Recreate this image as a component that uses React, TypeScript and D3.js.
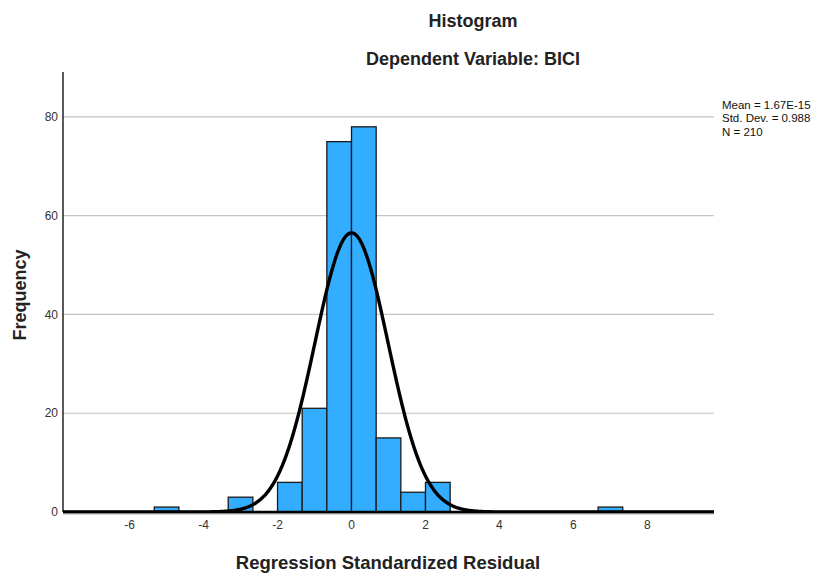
import React, { useEffect, useRef } from "react";
import * as d3 from "d3";

// histogram bins (left edge in SD units) and counts
const binStarts = [-16 / 3, -10 / 3, -2, -4 / 3, -2 / 3, 0, 2 / 3, 4 / 3, 2, 20 / 3];
const counts = [1, 3, 6, 21, 75, 78, 15, 4, 6, 1];
const binWidth = 2 / 3;

const xTicks = [-6, -4, -2, 0, 2, 4, 6, 8];
const yTicks = [0, 20, 40, 60, 80];

const statLabels = ["Mean = 1.67E-15", "Std. Dev. = 0.988", "N = 210"];
const mean = 1.67e-15;
const stdDev = 0.988;
const n = 210;

const FONT = "'Liberation Sans', Arial, sans-serif";

const App = () => {
    const ref = useRef<SVGSVGElement | null>(null);

    useEffect(() => {
        const svg = d3.select(ref.current);
        svg.selectAll("*").remove();

        const left = 63, right = 714, top = 72, bottom = 512;

        const x = d3.scaleLinear().domain([-7.8, 9.8]).range([left, right]);
        const y = d3.scaleLinear().domain([0, 89.1]).range([bottom, top]);

        // gridlines
        svg.append("g")
            .selectAll("line")
            .data(yTicks.filter(d => d > 0))
            .enter()
            .append("line")
            .attr("x1", left)
            .attr("x2", right)
            .attr("y1", d => y(d))
            .attr("y2", d => y(d))
            .attr("stroke", "#c4c4c4")
            .attr("stroke-width", 1.2);

        // y tick labels
        svg.append("g")
            .selectAll("text")
            .data(yTicks)
            .enter()
            .append("text")
            .attr("x", left - 5)
            .attr("y", d => y(d))
            .attr("dy", "0.35em")
            .attr("text-anchor", "end")
            .style("font-family", FONT)
            .style("font-size", "12px")
            .style("fill", "#333")
            .text(d => d);

        // x tick labels
        svg.append("g")
            .selectAll("text")
            .data(xTicks)
            .enter()
            .append("text")
            .attr("x", d => x(d))
            .attr("y", bottom + 13)
            .attr("dy", "0.35em")
            .attr("text-anchor", "middle")
            .style("font-family", FONT)
            .style("font-size", "12px")
            .style("fill", "#333")
            .text(d => d);

        // bars
        const bins = binStarts.map((s, i) => ({ s, c: counts[i] }));
        svg.append("g")
            .selectAll("rect")
            .data(bins)
            .enter()
            .append("rect")
            .attr("x", d => x(d.s))
            .attr("y", d => y(d.c))
            .attr("width", d => x(d.s + binWidth) - x(d.s))
            .attr("height", d => y(0) - y(d.c))
            .attr("fill", "#33adff")
            .attr("stroke", "#1a1a1a")
            .attr("stroke-width", 1.3);

        // normal curve
        const pts = d3.range(-7.8, 9.8001, 0.02).map(v => [
            v,
            n * binWidth * Math.exp(-0.5 * ((v - mean) / stdDev) ** 2) / (stdDev * Math.sqrt(2 * Math.PI)),
        ]);
        const line = d3.line<number[]>()
            .x(d => x(d[0]))
            .y(d => y(d[1]))
            .curve(d3.curveBasis);
        svg.append("path")
            .datum(pts)
            .attr("d", line)
            .attr("fill", "none")
            .attr("stroke", "#000")
            .attr("stroke-width", 3.4);

        // axes lines
        svg.append("line")
            .attr("x1", left).attr("x2", left)
            .attr("y1", top).attr("y2", bottom)
            .attr("stroke", "#000").attr("stroke-width", 1.3);
        svg.append("line")
            .attr("x1", left).attr("x2", right)
            .attr("y1", bottom + 1.5).attr("y2", bottom + 1.5)
            .attr("stroke", "#b0b0b0").attr("stroke-width", 2);
        svg.append("line")
            .attr("x1", left).attr("x2", right)
            .attr("y1", bottom).attr("y2", bottom)
            .attr("stroke", "#000").attr("stroke-width", 2.5);

        // titles
        svg.append("text")
            .attr("x", 473).attr("y", 27)
            .attr("text-anchor", "middle")
            .style("font-family", FONT).style("font-size", "18px").style("font-weight", "bold")
            .style("fill", "#222")
            .text("Histogram");
        svg.append("text")
            .attr("x", 473).attr("y", 65)
            .attr("text-anchor", "middle")
            .style("font-family", FONT).style("font-size", "18px").style("font-weight", "bold")
            .style("fill", "#222")
            .text("Dependent Variable: BICI");
        svg.append("text")
            .attr("x", 388).attr("y", 569)
            .attr("text-anchor", "middle")
            .style("font-family", FONT).style("font-size", "18.5px").style("font-weight", "bold")
            .style("fill", "#222")
            .text("Regression Standardized Residual");
        svg.append("text")
            .attr("transform", `translate(26, 295) rotate(-90)`)
            .attr("text-anchor", "middle")
            .style("font-family", FONT).style("font-size", "18px").style("font-weight", "bold")
            .style("fill", "#222")
            .text("Frequency");

        // stats
        svg.append("g")
            .selectAll("text")
            .data(statLabels)
            .enter()
            .append("text")
            .attr("x", 722)
            .attr("y", (d, i) => 108.5 + i * 13.5)
            .style("font-family", FONT)
            .style("font-size", "11.5px")
            .style("fill", "#111")
            .text(d => d);
    }, []);

    return (
        <svg
            ref={ref}
            width={820}
            height={574}
            style={{ position: "absolute", left: 0, top: 0, background: "#fff" }}
        />
    );
};

export default App;
